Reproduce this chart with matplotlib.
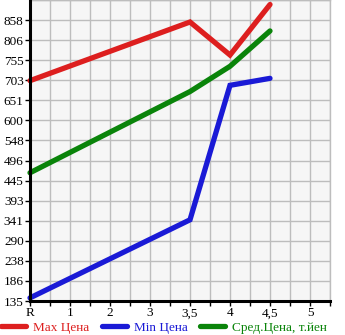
import matplotlib
matplotlib.use("Agg")
import matplotlib.pyplot as plt
import numpy as np

# Category axis (mileage / grade steps) and price series, thousand yen
categories = ["R", "1", "2", "3", "3,5", "4", "4,5", "5"]
max_price = [702, None, None, None, 853, 768, 898, None]
min_price = [143, None, None, None, 344, 690, 708, None]
avg_price = [465, None, None, None, 674, 739, 830, None]

y_tick_labels = ["135", "186", "238", "290", "341", "393", "445", "496",
                 "548", "600", "651", "703", "755", "806", "858"]
y_min = 135.0
y_step = 51.64

series = [
    ("Max Цена", max_price, "#dd1f1f"),
    ("Min Цена", min_price, "#1a1ad6"),
    ("Сред.Цена, т.йен", avg_price, "#0a840a"),
]

plt.rcParams["font.family"] = ["Liberation Serif", "DejaVu Serif"]

fig = plt.figure(figsize=(3.45, 3.35), dpi=100)
ax = fig.add_axes([30 / 345, 1 - 301 / 335, 300 / 345, 301 / 335])
ax.set_facecolor("#f6f6f6")

handles = []
for label, values, color in series:
    xs = [i for i, v in enumerate(values) if v is not None]
    ys = [v for v in values if v is not None]
    (ln,) = ax.plot(xs, ys, color=color, lw=3.8, solid_capstyle="round",
                    solid_joinstyle="miter", label=label, clip_on=False, zorder=3)
    handles.append(ln)

n_y = len(y_tick_labels)
ax.set_xlim(0, 7.5)
ax.set_ylim(y_min, y_min + y_step * n_y)

ax.set_xticks(np.arange(0, 7.51, 0.5), minor=True)
ax.set_xticks(range(len(categories)))
ax.set_xticklabels(categories)
yt = [y_min + y_step * k for k in range(n_y)]
ax.set_yticks(yt)
ax.set_yticklabels(y_tick_labels)
ax.set_yticks([y_min + y_step * n_y], minor=True)

ax.grid(True, which="both", color="#bdbdbd", lw=1.0, zorder=0)
ax.set_axisbelow(True)
ax.tick_params(axis="both", which="both", labelsize=9.5, colors="black",
               length=3.5, width=1.0, pad=1.0)
ax.tick_params(axis="y", which="minor", length=0)

for side in ("left", "bottom"):
    ax.spines[side].set_color("black")
    ax.spines[side].set_linewidth(2.2)
    ax.spines[side].set_zorder(4)
for side in ("top", "right"):
    ax.spines[side].set_color("#bdbdbd")
    ax.spines[side].set_linewidth(1.0)

leg = fig.legend(handles=handles, loc="lower left", bbox_to_anchor=(-0.012, -0.012),
                 ncol=3, frameon=False, fontsize=9.5, handlelength=1.9,
                 handletextpad=0.55, columnspacing=0.9, borderaxespad=0,
                 labelcolor="linecolor")

fig.savefig("out.png", dpi=100)
